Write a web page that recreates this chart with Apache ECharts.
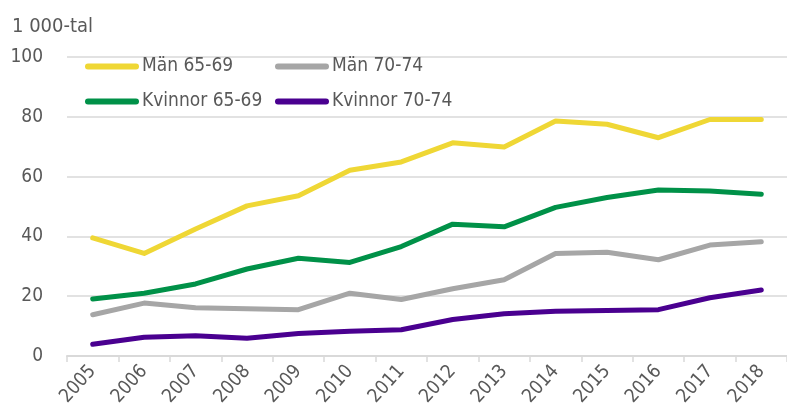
<!DOCTYPE html>
<html>
<head>
<meta charset="utf-8">
<script src="https://cdn.jsdelivr.net/npm/echarts@6/dist/echarts.min.js"></script>
<style>
html, body { margin: 0; padding: 0; background: #fff; }
#chart { width: 787px; height: 418px; }
</style>
</head>
<body>
<div id="chart"></div>
<script>
const years = ['2005', '2006', '2007', '2008', '2009', '2010', '2011', '2012', '2013', '2014', '2015', '2016', '2017', '2018']
const man6569 = [39.5, 34.3, 42.5, 50.2, 53.6, 62.1, 64.9, 71.3, 69.9, 78.6, 77.5, 73.0, 79.1, 79.1]
const man7074 = [13.8, 17.7, 16.1, 15.8, 15.5, 21.0, 18.9, 22.5, 25.5, 34.3, 34.7, 32.2, 37.1, 38.2]
const kvinnor6569 = [19.1, 21.0, 24.1, 29.1, 32.7, 31.3, 36.6, 44.1, 43.2, 49.7, 53.0, 55.5, 55.2, 54.1]
const kvinnor7074 = [3.9, 6.3, 6.8, 5.9, 7.5, 8.3, 8.8, 12.2, 14.1, 15.0, 15.2, 15.5, 19.5, 22.1]

const font = "'DejaVu Sans Condensed', sans-serif"
const textColor = '#595959'
const gridColor = '#d9d9d9'
// rounded bar used as legend marker
const legendIcon = 'path://M3,0 H51 A3,3 0 0 1 51,6 H3 A3,3 0 0 1 3,0 Z'

const chart = echarts.init(document.getElementById('chart'))

const makeLine = (name, data, color) => ({
    name,
    type: 'line',
    data,
    symbol: 'none',
    lineStyle: { color, width: 5, cap: 'round', join: 'round' },
    itemStyle: { color }
})

const legendBase = {
    orient: 'vertical',
    icon: legendIcon,
    itemWidth: 54,
    itemHeight: 6,
    itemGap: 16,
    textStyle: { color: textColor, fontSize: 19, fontFamily: font, padding: [0, 0, 0, -2] },
    top: 57,
    padding: 0
}

chart.setOption({
    animation: false,
    title: {
        text: '1 000-tal',
        left: 7,
        top: 12,
        textStyle: { color: textColor, fontSize: 20, fontWeight: 'normal', fontFamily: font }
    },
    legend: [
        Object.assign({}, legendBase, { left: 85, data: ['Män 65-69', 'Kvinnor 65-69'] }),
        Object.assign({}, legendBase, { left: 275, data: ['Män 70-74', 'Kvinnor 70-74'] })
    ],
    grid: { left: 67, right: 0, top: 57, bottom: 62 },
    xAxis: {
        type: 'category',
        data: years,
        boundaryGap: true,
        axisLine: { lineStyle: { color: gridColor, width: 2 } },
        axisTick: { show: true, length: 6, lineStyle: { color: gridColor, width: 1.5 } },
        axisLabel: { color: textColor, fontSize: 19, fontFamily: font, rotate: 48, margin: 12, interval: 0 }
    },
    yAxis: {
        type: 'value',
        min: 0,
        max: 100,
        interval: 20,
        axisLine: { show: false },
        axisTick: { show: false },
        splitLine: { lineStyle: { color: gridColor, width: 1.5 } },
        axisLabel: { color: textColor, fontSize: 19, fontFamily: font, margin: 24 }
    },
    series: [
        makeLine('Män 65-69', man6569, '#efd735'),
        makeLine('Män 70-74', man7074, '#a6a6a6'),
        makeLine('Kvinnor 65-69', kvinnor6569, '#009148'),
        makeLine('Kvinnor 70-74', kvinnor7074, '#4a0090')
    ]
})
</script>
</body>
</html>
